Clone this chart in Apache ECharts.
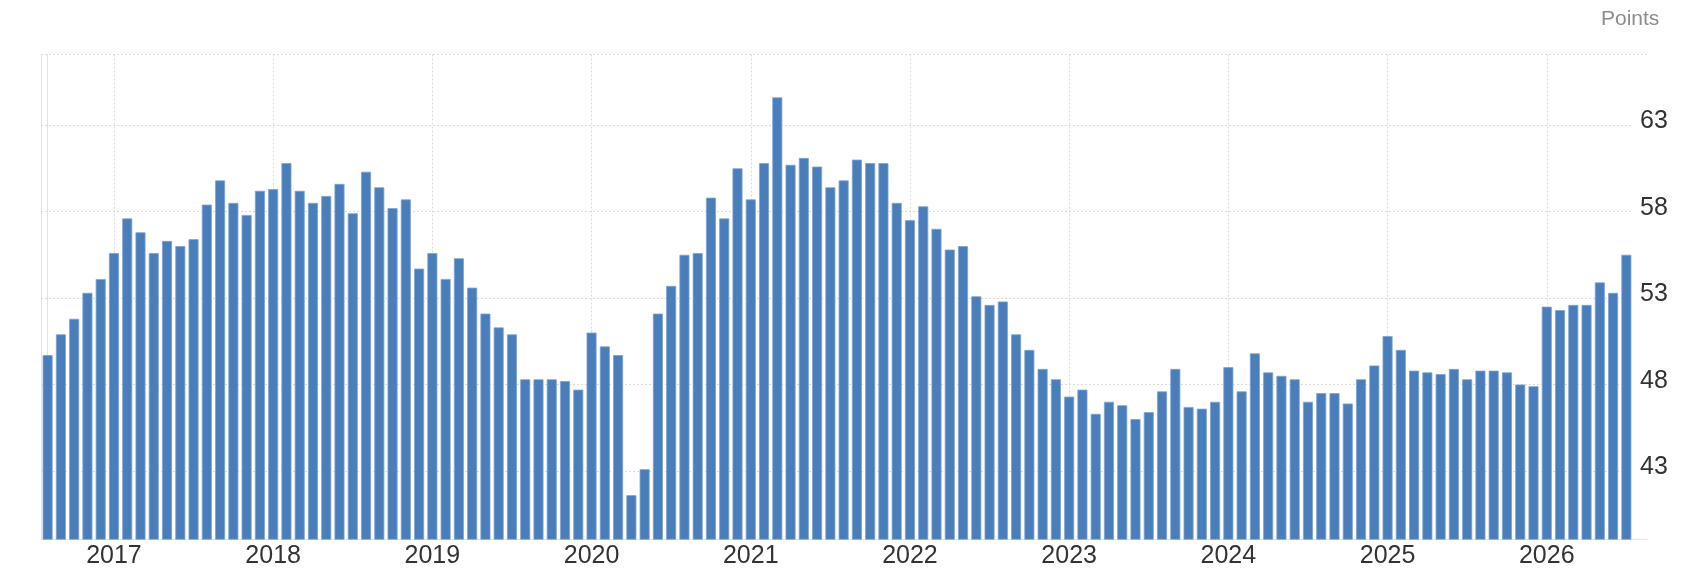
<!DOCTYPE html>
<html>
<head>
<meta charset="utf-8">
<script src="https://cdn.jsdelivr.net/npm/echarts@6/dist/echarts.min.js"></script>
<style>
html,body{margin:0;padding:0;background:#fff;}
#chart{width:1685px;height:580px;}
</style>
</head>
<body>
<div id="chart"></div>
<script>
// Monthly categories, Aug 2016 .. Jul 2026
const months = [
  "2016-08","2016-09","2016-10","2016-11","2016-12",
  "2017-01","2017-02","2017-03","2017-04","2017-05","2017-06","2017-07","2017-08","2017-09","2017-10","2017-11","2017-12",
  "2018-01","2018-02","2018-03","2018-04","2018-05","2018-06","2018-07","2018-08","2018-09","2018-10","2018-11","2018-12",
  "2019-01","2019-02","2019-03","2019-04","2019-05","2019-06","2019-07","2019-08","2019-09","2019-10","2019-11","2019-12",
  "2020-01","2020-02","2020-03","2020-04","2020-05","2020-06","2020-07","2020-08","2020-09","2020-10","2020-11","2020-12",
  "2021-01","2021-02","2021-03","2021-04","2021-05","2021-06","2021-07","2021-08","2021-09","2021-10","2021-11","2021-12",
  "2022-01","2022-02","2022-03","2022-04","2022-05","2022-06","2022-07","2022-08","2022-09","2022-10","2022-11","2022-12",
  "2023-01","2023-02","2023-03","2023-04","2023-05","2023-06","2023-07","2023-08","2023-09","2023-10","2023-11","2023-12",
  "2024-01","2024-02","2024-03","2024-04","2024-05","2024-06","2024-07","2024-08","2024-09","2024-10","2024-11","2024-12",
  "2025-01","2025-02","2025-03","2025-04","2025-05","2025-06","2025-07","2025-08","2025-09","2025-10","2025-11","2025-12",
  "2026-01","2026-02","2026-03","2026-04","2026-05","2026-06","2026-07"
];

const values = [
  49.7, 50.9, 51.8, 53.3, 54.1,
  55.6, 57.6, 56.8, 55.6, 56.3, 56.0, 56.4, 58.4, 59.8, 58.5, 57.8, 59.2,
  59.3, 60.8, 59.2, 58.5, 58.9, 59.6, 57.9, 60.3, 59.4, 58.2, 58.7, 54.7,
  55.6, 54.1, 55.3, 53.6, 52.1, 51.3, 50.9, 48.3, 48.3, 48.3, 48.2, 47.7,
  51.0, 50.2, 49.7, 41.6, 43.1, 52.1, 53.7, 55.5, 55.6, 58.8, 57.6, 60.5,
  58.7, 60.8, 64.6, 60.7, 61.1, 60.6, 59.4, 59.8, 61.0, 60.8, 60.8, 58.5,
  57.5, 58.3, 57.0, 55.8, 56.0, 53.1, 52.6, 52.8, 50.9, 50.0, 48.9, 48.3,
  47.3, 47.7, 46.3, 47.0, 46.8, 46.0, 46.4, 47.6, 48.9, 46.7, 46.6, 47.0,
  49.0, 47.6, 49.8, 48.7, 48.5, 48.3, 47.0, 47.5, 47.5, 46.9, 48.3, 49.1,
  50.8, 50.0, 48.8, 48.7, 48.6, 48.9, 48.3, 48.8, 48.8, 48.7, 48.0, 47.9,
  52.5, 52.3, 52.6, 52.6, 53.9, 53.3, 55.5
];

const yearTicks = ["2017","2018","2019","2020","2021","2022","2023","2024","2025","2026"];
const yTicks = [43, 48, 53, 58, 63];
const yMin = 39.05, yMax = 67.08;
const unitLabel = "Points";

const janIdx = months.map((m, i) => yearTicks.includes(m.slice(0,4)) && m.slice(5) === "01" ? i : -1).filter(i => i >= 0);

const chart = echarts.init(document.getElementById('chart'), null, {renderer: 'canvas'});
const FONT = '"Liberation Sans", Arial, sans-serif';

chart.setOption({
  animation: false,
  backgroundColor: '#ffffff',
  grid: { left: 41, right: 52, top: 54.5, bottom: 40.7, outerBoundsMode: 'none' },
  graphic: [
    { type: 'text', left: 1601, top: 9,
      style: { text: unitLabel, fill: '#8c8c8c', font: '21px ' + FONT } },
    { type: 'line', silent: true,
      shape: { x1: 1633, y1: 54.5, x2: 1648, y2: 54.5 },
      style: { stroke: '#dcdcdc', lineWidth: 1, lineDash: [2, 2] } },
    { type: 'line', silent: true,
      shape: { x1: 1633, y1: 539.3, x2: 1648, y2: 539.3 },
      style: { stroke: '#e3e3e3', lineWidth: 1 } }
  ],
  xAxis: [
    {
      type: 'category',
      data: months,
      boundaryGap: true,
      axisLine: { show: true, lineStyle: { color: '#e3e3e3', width: 1 } },
      axisTick: { show: false },
      splitLine: { show: false },
      axisLabel: {
        interval: (i, v) => v.slice(5) === '01',
        formatter: v => v.slice(0, 4),
        color: '#333333',
        fontSize: 25,
        fontFamily: FONT,
        margin: 4
      }
    },
    {
      type: 'value',
      min: -0.5, max: months.length - 0.5,
      position: 'bottom',
      axisLine: { show: false },
      axisLabel: { show: false },
      axisTick: { show: false, customValues: janIdx },
      splitLine: { show: true, lineStyle: { color: '#dcdcdc', type: [2, 2], width: 1 } }
    }
  ],
  yAxis: [
    {
      type: 'value',
      position: 'right',
      min: yMin, max: yMax,
      axisLine: { show: true, lineStyle: { color: '#e3e3e3', width: 1 } },
      axisTick: { show: false, customValues: yTicks.concat([yMax]) },
      splitLine: { show: true, lineStyle: { color: '#dcdcdc', type: [2, 2], width: 1 } },
      axisLabel: {
        customValues: yTicks,
        formatter: v => '{a|' + v + '}',
        margin: 7,
        verticalAlign: 'middle',
        rich: {
          a: {
            color: '#333333',
            fontSize: 25,
            fontFamily: FONT,
            padding: [0, 0, 7, 0]
          }
        }
      }
    },
    {
      type: 'value',
      position: 'left',
      min: yMin, max: yMax,
      axisLine: { show: true, lineStyle: { color: '#e3e3e3', width: 1 } },
      axisTick: { show: false },
      axisLabel: { show: false },
      splitLine: { show: false }
    }
  ],
  series: [
    {
      type: 'bar',
      xAxisIndex: 0,
      yAxisIndex: 0,
      data: values,
      barWidth: 10,
      itemStyle: { color: '#4a7ebb', borderColor: '#7da2d2', borderWidth: 0.8 }
    }
  ]
});
</script>
</body>
</html>
